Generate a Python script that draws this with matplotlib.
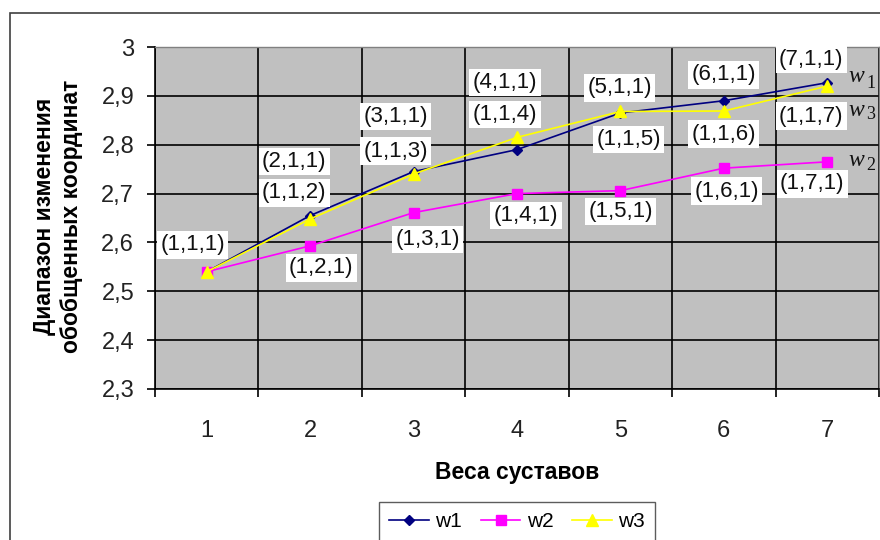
import matplotlib
matplotlib.use("Agg")
import matplotlib.pyplot as plt
from matplotlib.patches import Rectangle
from matplotlib.ticker import FixedLocator

plt.rcParams['font.family'] = ['Liberation Sans', 'DejaVu Sans']

# Joint weights (x categories) and generalized-coordinate ranges per series
weights = [1, 2, 3, 4, 5, 6, 7]
w1 = [2.54, 2.655, 2.745, 2.79, 2.865, 2.89, 2.927]
w2 = [2.54, 2.593, 2.661, 2.70, 2.706, 2.752, 2.765]
w3 = [2.54, 2.648, 2.74, 2.815, 2.868, 2.869, 2.92]

# Point labels: weight triples for each series
labels_w1 = ["(1,1,1)", "(2,1,1)", "(3,1,1)", "(4,1,1)", "(5,1,1)", "(6,1,1)", "(7,1,1)"]
labels_w2 = [None, "(1,2,1)", "(1,3,1)", "(1,4,1)", "(1,5,1)", "(1,6,1)", "(1,7,1)"]
labels_w3 = [None, "(1,1,2)", "(1,1,3)", "(1,1,4)", "(1,1,5)", "(1,1,6)", "(1,1,7)"]

y_ticks = [2.3, 2.4, 2.5, 2.6, 2.7, 2.8, 2.9, 3.0]
y_tick_labels = ["2,3", "2,4", "2,5", "2,6", "2,7", "2,8", "2,9", "3"]

# label offsets from their points, in pixels (dx, dy up)
off_w1 = [(-14, 27), (-16, 54), (-18, 55), (-12, 67), (-1, 25), (0, 26), (-16, 23)]
off_w2 = [None, (11, -22), (14, -27), (9, -22), (0, -21), (3, -23), (-15, -22)]
off_w3 = [None, (-16, 26), (-18, 23), (-12, 23), (8, -28), (0, -23), (-16, -30)]

W, H = 880, 540
fig = plt.figure(figsize=(W / 100, H / 100), dpi=100)
fig.patch.set_facecolor("white")

# outer chart-area frame
fig.add_artist(Rectangle((10 / W, -0.2), 2.0, 1 - 13 / H + 0.2,
                         transform=fig.transFigure, fill=False,
                         edgecolor="#404040", linewidth=1.2))

left, right, top, bottom = 155, 879, 47, 389
ax = fig.add_axes([left / W, 1 - bottom / H, (right - left) / W, (bottom - top) / H])
ax.set_facecolor("#C0C0C0")
ax.set_xlim(0.5, 7.5)
ax.set_ylim(2.3, 3.0)

# grid: horizontal at value ticks, vertical at category boundaries
ax.set_yticks(y_ticks)
ax.set_yticklabels(y_tick_labels)
ax.set_xticks(weights)
ax.set_xticklabels([str(w) for w in weights])
ax.xaxis.set_minor_locator(FixedLocator([i + 0.5 for i in range(0, 8)]))
ax.grid(axis="y", which="major", color="black", linewidth=1.2)
ax.grid(axis="x", which="minor", color="black", linewidth=1.2)
ax.yaxis.get_gridlines()[-1].set_visible(False)
ax.set_axisbelow(True)

ax.tick_params(axis="y", which="major", length=6, width=1.2, pad=9,
               labelsize=17, labelcolor="#222222", color="black")
ax.tick_params(axis="x", which="major", length=0, pad=22,
               labelsize=17, labelcolor="#222222")
ax.tick_params(axis="x", which="minor", length=6, width=1.2, color="black")

for s in ("left", "bottom"):
    ax.spines[s].set_color("black")
    ax.spines[s].set_linewidth(1.2)
for s in ("top", "right"):
    ax.spines[s].set_color("#808080")
    ax.spines[s].set_linewidth(1.0)

l1, = ax.plot(weights, w1, color="#000080", lw=1.2, marker="D", ms=5.5,
              label="w1", zorder=3)
l2, = ax.plot(weights, w2, color="#FF00FF", lw=1.2, marker="s", ms=6.5,
              label="w2", zorder=3)
l3, = ax.plot(weights, w3, color="#FFFF00", lw=1.2, marker="^", ms=8,
              label="w3", zorder=4)

box = dict(boxstyle="square,pad=0.15", fc="white", ec="none")
for vals, labs, offs in ((w1, labels_w1, off_w1), (w2, labels_w2, off_w2),
                         (w3, labels_w3, off_w3)):
    for x, v, lab, off in zip(weights, vals, labs, offs):
        if lab is None:
            continue
        ax.annotate(lab, (x, v), xytext=off, textcoords="offset pixels",
                    ha="center", va="center", fontsize=16, color="#111111",
                    bbox=box, zorder=6, annotation_clip=False)

# series names at the right end: (subscript, value, dy of "w", dy of digit)
names = [("1", w1[-1], 6, -1), ("3", w3[-1], -24, -28), ("2", w2[-1], 1, -4)]
for sub, v, dy_w, dy_d in names:
    ax.annotate("w", (7, v), xytext=(21, dy_w), textcoords="offset pixels",
                ha="left", va="center", fontsize=17, style="italic",
                family="Liberation Serif", color="#111111", annotation_clip=False)
    ax.annotate(sub, (7, v), xytext=(39, dy_d), textcoords="offset pixels",
                ha="left", va="center", fontsize=13,
                family="Liberation Serif", color="#111111", annotation_clip=False)

ax.set_xlabel("Веса суставов", fontsize=16.5, fontweight="bold", labelpad=14)
fig.text(58 / W, 1 - 216 / H, "Диапазон изменения\nобобщенных координат",
         rotation=90, ha="center", va="center", fontsize=16.5,
         fontweight="bold", linespacing=1.2)

leg = fig.legend(handles=[l1, l2, l3], loc="upper center",
                 bbox_to_anchor=(517 / W, 1 - 502 / H), ncol=3, fontsize=15,
                 frameon=True, fancybox=False, edgecolor="#333333",
                 handlelength=1.9, handletextpad=0.3, columnspacing=0.9,
                 borderpad=0.5, numpoints=1, borderaxespad=0)
leg.get_frame().set_linewidth(1.0)

fig.savefig("out.png", dpi=100)
